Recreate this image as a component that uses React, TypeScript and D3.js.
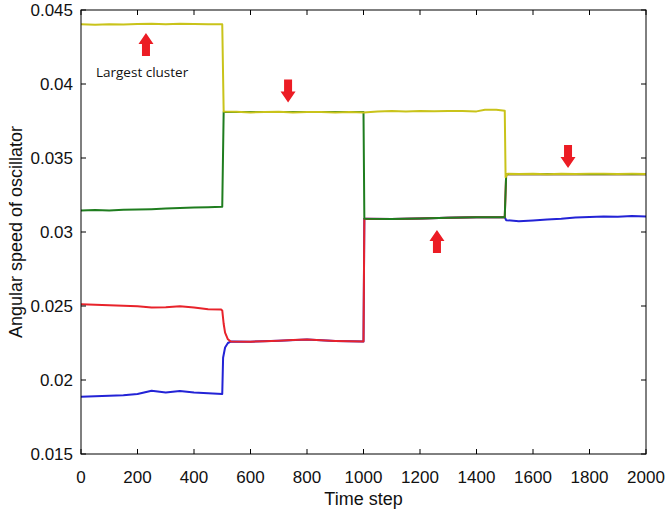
import React from "react";
import * as d3 from "d3";

// time steps / angular speed, one list per cluster
const yellowT = [0, 50, 100, 150, 200, 250, 300, 350, 400, 450, 500, 505, 550, 600, 650, 700, 750, 800, 850, 900, 950, 1000, 1050, 1100, 1150, 1200, 1250, 1300, 1350, 1400, 1430, 1470, 1500, 1503, 1510, 1550, 1600, 1650, 1700, 1750, 1800, 1850, 1900, 1950, 2000];
const yellowV = [0.04403, 0.04401, 0.04404, 0.04402, 0.04405, 0.04407, 0.04404, 0.04407, 0.04405, 0.04404, 0.04403, 0.03815, 0.03812, 0.03808, 0.0381, 0.03812, 0.03808, 0.03811, 0.0381, 0.03808, 0.03811, 0.03808, 0.03815, 0.03818, 0.03815, 0.03817, 0.03816, 0.03818, 0.03817, 0.03815, 0.03826, 0.03826, 0.0382, 0.0337, 0.03393, 0.03392, 0.03394, 0.03391, 0.03393, 0.03392, 0.03394, 0.03393, 0.03392, 0.03393, 0.03392];

const greenT = [0, 50, 100, 150, 200, 250, 300, 350, 400, 450, 500, 505, 600, 700, 800, 900, 1000, 1003, 1100, 1200, 1300, 1400, 1500, 1505, 1600, 1800, 2000];
const greenV = [0.03145, 0.03148, 0.03146, 0.0315, 0.03152, 0.03154, 0.03158, 0.03162, 0.03166, 0.03168, 0.0317, 0.0381, 0.0381, 0.0381, 0.0381, 0.0381, 0.0381, 0.0309, 0.03087, 0.03092, 0.03097, 0.031, 0.031, 0.0339, 0.0339, 0.0339, 0.0339];

const redT = [0, 50, 100, 150, 200, 250, 300, 350, 400, 450, 495, 500, 505, 510, 520, 530, 600, 650, 700, 750, 800, 850, 900, 950, 1000, 1003, 1100, 1200, 1300, 1400, 1500, 1505, 1700, 2000];
const redV = [0.02512, 0.02508, 0.02505, 0.02502, 0.02498, 0.0249, 0.02492, 0.02498, 0.0249, 0.02478, 0.02477, 0.0247, 0.0238, 0.0232, 0.02275, 0.0226, 0.02259, 0.02262, 0.02265, 0.0227, 0.02273, 0.02268, 0.02264, 0.02262, 0.0226, 0.0309, 0.03087, 0.03092, 0.03097, 0.031, 0.031, 0.0339, 0.0339, 0.0339];

const blueT = [0, 50, 100, 150, 200, 250, 300, 350, 400, 450, 500, 503, 510, 520, 530, 600, 700, 800, 900, 1000, 1003, 1100, 1200, 1300, 1400, 1500, 1505, 1550, 1600, 1650, 1700, 1750, 1800, 1850, 1900, 1950, 2000];
const blueV = [0.01887, 0.0189, 0.01893, 0.01897, 0.01905, 0.01928, 0.01915, 0.01925, 0.01915, 0.0191, 0.01905, 0.0215, 0.0222, 0.0225, 0.0226, 0.02259, 0.02265, 0.02273, 0.02264, 0.0226, 0.0309, 0.03087, 0.03092, 0.03097, 0.031, 0.031, 0.0308, 0.03072, 0.03078, 0.03085, 0.0309, 0.03098, 0.03102, 0.03104, 0.03103, 0.03108, 0.03105];

const xTicks = [0, 200, 400, 600, 800, 1000, 1200, 1400, 1600, 1800, 2000];
const yTicks = [0.015, 0.02, 0.025, 0.03, 0.035, 0.04, 0.045];
const yTickLabels = ["0.015", "0.02", "0.025", "0.03", "0.035", "0.04", "0.045"];

// red arrows: [time, speed at centre, direction]
const arrowT = [230, 733, 1260, 1724];
const arrowV = [0.04267, 0.03953, 0.02936, 0.0351];
const arrowDir = ["up", "down", "up", "down"];

const width = 671;
const height = 515;
const margin = { top: 10, right: 25, bottom: 61, left: 81 };

const App = () => {
    const innerW = width - margin.left - margin.right;
    const innerH = height - margin.top - margin.bottom;

    const x = d3.scaleLinear().domain([0, 2000]).range([margin.left, margin.left + innerW]);
    const y = d3.scaleLinear().domain([0.015, 0.045]).range([margin.top + innerH, margin.top]);

    const makePath = (ts: number[], vs: number[]) =>
        d3.line<number>()
            .x((_, i) => x(ts[i]))
            .y((_, i) => y(vs[i]))(ts) as string;

    // bottom to top, so blue/red hide under the upper clusters
    const series = [
        { t: blueT, v: blueV, color: "#2323d6" },
        { t: redT, v: redV, color: "#e8232b" },
        { t: greenT, v: greenV, color: "#1f7d1f" },
        { t: yellowT, v: yellowV, color: "#c9c31a" },
    ];

    // block arrow, 23px tall, pointing up or down
    const arrowPath = (cx: number, cy: number, dir: string) => {
        const s = dir === "up" ? -1 : 1;
        const hw = 7.5, sw = 4, hh = 11, half = 11.5;
        const tip = cy + s * half;
        const base = cy - s * half;
        const neck = tip - s * hh;
        const p = d3.path();
        p.moveTo(cx, tip);
        p.lineTo(cx + hw, neck);
        p.lineTo(cx + sw, neck);
        p.lineTo(cx + sw, base);
        p.lineTo(cx - sw, base);
        p.lineTo(cx - sw, neck);
        p.lineTo(cx - hw, neck);
        p.closePath();
        return p.toString();
    };

    const x0 = margin.left, x1 = margin.left + innerW;
    const y0 = margin.top, y1 = margin.top + innerH;
    const tickLen = 5;
    const font = "'Liberation Sans', Arial, sans-serif";

    return (
        <svg width={width} height={height} style={{ position: "absolute", left: 0, top: 0, background: "#fff" }}>
            <g>
                {series.map((s, i) => (
                    <path key={i} d={makePath(s.t, s.v)} fill="none" stroke={s.color} strokeWidth={2} strokeLinejoin="round" />
                ))}
            </g>
            {arrowT.map((t, i) => (
                <path key={"a" + i} d={arrowPath(x(t), y(arrowV[i]), arrowDir[i])} fill="#ec1c24" />
            ))}
            <text x={x(53)} y={y(0.04047)} fontFamily="'Open Sans', 'Noto Sans', sans-serif" fontSize={13.5} fill="#111">
                Largest cluster
            </text>
            <rect x={x0} y={y0} width={innerW} height={innerH} fill="none" stroke="#000" strokeWidth={1} />
            {xTicks.map((t) => (
                <g key={"x" + t}>
                    <line x1={x(t)} x2={x(t)} y1={y1} y2={y1 - tickLen} stroke="#000" />
                    <line x1={x(t)} x2={x(t)} y1={y0} y2={y0 + tickLen} stroke="#000" />
                    <text x={x(t)} y={y1 + 29} textAnchor="middle" fontFamily={font} fontSize={17} fill="#111">
                        {t}
                    </text>
                </g>
            ))}
            {yTicks.map((v, i) => (
                <g key={"y" + i}>
                    <line x1={x0} x2={x0 + tickLen} y1={y(v)} y2={y(v)} stroke="#000" />
                    <line x1={x1} x2={x1 - tickLen} y1={y(v)} y2={y(v)} stroke="#000" />
                    <text x={x0 - 8} y={y(v)} dy="0.35em" textAnchor="end" fontFamily={font} fontSize={17} fill="#111">
                        {yTickLabels[i]}
                    </text>
                </g>
            ))}
            <text x={(x0 + x1) / 2} y={505} textAnchor="middle" fontFamily={font} fontSize={18} fill="#111">
                Time step
            </text>
            <text transform={`translate(22,${(y0 + y1) / 2}) rotate(-90)`} textAnchor="middle" fontFamily={font} fontSize={18} fill="#111">
                Angular speed of oscillator
            </text>
        </svg>
    );
};

export default App;
